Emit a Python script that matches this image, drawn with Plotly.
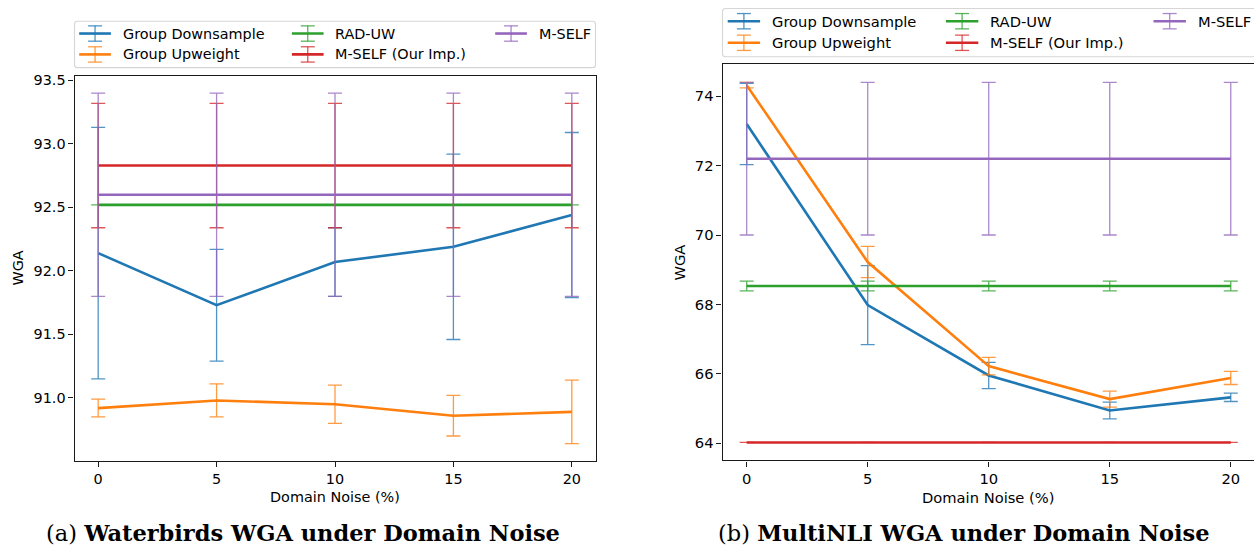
import plotly.graph_objects as go

W, H = 1254, 545

# ---------------- data ----------------
noise = [0, 5, 10, 15, 20]
method_names = ["Group Downsample", "Group Upweight", "RAD-UW", "M-SELF (Our Imp.)", "M-SELF"]
method_colors = ["#1f77b4", "#ff7f0e", "#2ca02c", "#d62728", "#9467bd"]

# Waterbirds WGA
wb_downsample = [92.14, 91.73, 92.07, 92.19, 92.44]
wb_downsample_err = [0.99, 0.44, 0.27, 0.73, 0.65]
wb_upweight = [90.92, 90.98, 90.95, 90.86, 90.89]
wb_upweight_err = [0.07, 0.13, 0.15, 0.16, 0.25]
wb_raduw = [92.52, 92.52, 92.52, 92.52, 92.52]
wb_raduw_err = [0.0, 0.0, 0.0, 0.0, 0.0]
wb_mself_ours = [92.83, 92.83, 92.83, 92.83, 92.83]
wb_mself_ours_err = [0.49, 0.49, 0.49, 0.49, 0.49]
wb_mself = [92.60, 92.60, 92.60, 92.60, 92.60]
wb_mself_err = [0.80, 0.80, 0.80, 0.80, 0.80]

# MultiNLI WGA
mnli_downsample = [73.20, 67.98, 65.95, 64.94, 65.32]
mnli_downsample_err = [1.17, 1.14, 0.38, 0.24, 0.12]
mnli_upweight = [74.32, 69.22, 66.22, 65.27, 65.88]
mnli_upweight_err = [0.08, 0.45, 0.25, 0.23, 0.19]
mnli_raduw = [68.53, 68.53, 68.53, 68.53, 68.53]
mnli_raduw_err = [0.14, 0.14, 0.14, 0.14, 0.14]
mnli_mself_ours = [64.02, 64.02, 64.02, 64.02, 64.02]
mnli_mself_ours_err = [0.0, 0.0, 0.0, 0.0, 0.0]
mnli_mself = [72.20, 72.20, 72.20, 72.20, 72.20]
mnli_mself_err = [2.20, 2.20, 2.20, 2.20, 2.20]

wb_tick_vals = [91.0, 91.5, 92.0, 92.5, 93.0, 93.5]
mnli_tick_vals = [64, 66, 68, 70, 72, 74]

captions = ["(a) <b>Waterbirds WGA under Domain Noise</b>",
            "(b) <b>MultiNLI WGA under Domain Noise</b>"]
x_title = "Domain Noise (%)"
y_title = "WGA"


def px(x):
    return x / W


def py(y):
    return 1 - y / H


def rgba(hexc, a):
    h = hexc.lstrip("#")
    r, g, b = int(h[0:2], 16), int(h[2:4], 16), int(h[4:6], 16)
    return f"rgba({r},{g},{b},{a})"


fig = go.Figure()

wb_series = [(wb_downsample, wb_downsample_err), (wb_upweight, wb_upweight_err),
             (wb_raduw, wb_raduw_err), (wb_mself_ours, wb_mself_ours_err),
             (wb_mself, wb_mself_err)]
mnli_series = [(mnli_downsample, mnli_downsample_err), (mnli_upweight, mnli_upweight_err),
               (mnli_raduw, mnli_raduw_err), (mnli_mself_ours, mnli_mself_ours_err),
               (mnli_mself, mnli_mself_err)]

for (xa, ya, series) in [("x", "y", wb_series), ("x2", "y2", mnli_series)]:
    for name, color, (vals, errs) in zip(method_names, method_colors, series):
        fig.add_trace(go.Scatter(
            x=noise, y=vals, mode="lines", name=name,
            line=dict(color=color, width=2.6),
            error_y=dict(type="data", array=errs, visible=True,
                         color=rgba(color, 0.78), thickness=1.3, width=7),
            xaxis=xa, yaxis=ya, showlegend=False))

axis_common = dict(showgrid=False, zeroline=False, showline=True, linecolor="#1a1a1a",
                   linewidth=1.1, ticks="outside", ticklen=5, tickwidth=1,
                   tickcolor="#1a1a1a")

fig.update_layout(
    width=W, height=H,
    margin=dict(l=0, r=0, t=0, b=0),
    paper_bgcolor="white", plot_bgcolor="white",
    font=dict(family="DejaVu Sans", color="black"),
    showlegend=False,
    xaxis=dict(domain=[px(74.5), px(595.5)], range=[-1, 21], tickvals=noise,
               mirror=True, anchor="y", tickfont=dict(size=14.4), **axis_common),
    yaxis=dict(domain=[py(460.7), py(73)], range=[90.502, 93.538], tickvals=wb_tick_vals,
               tickformat=".1f", mirror=True, anchor="x", tickfont=dict(size=14.4),
               **axis_common),
    xaxis2=dict(domain=[px(722.5), 1.0], range=[-1, 20.96], tickvals=noise,
                mirror=True, anchor="y2", tickfont=dict(size=14.7), **axis_common),
    yaxis2=dict(domain=[py(460), py(61.7)], range=[63.50, 74.92], tickvals=mnli_tick_vals,
                mirror=False, anchor="x2", tickfont=dict(size=14.7), **axis_common),
)

shapes = []
annotations = []


def rounded_rect(x0, y0, x1, y1, r):
    rx, ry = r / W, r / H
    X0, X1 = px(x0), px(x1)
    Y0, Y1 = py(y0), py(y1)  # Y0 top (larger), Y1 bottom
    path = (f"M {X0 + rx},{Y0} L {X1 - rx},{Y0} Q {X1},{Y0} {X1},{Y0 - ry} "
            f"L {X1},{Y1 + ry} Q {X1},{Y1} {X1 - rx},{Y1} L {X0 + rx},{Y1} "
            f"Q {X0},{Y1} {X0},{Y1 + ry} L {X0},{Y0 - ry} Q {X0},{Y0} {X0 + rx},{Y0} Z")
    return dict(type="path", xref="paper", yref="paper", path=path,
                fillcolor="rgba(255,255,255,0.8)", line=dict(color="#d6d6d6", width=1.1),
                layer="above")


def draw_legend(L, T, B, R, row_offsets, col_starts, handle_len, text_gap, fsize):
    shapes.append(rounded_rect(L, T, R, B, 3))
    order = [(0, 0), (0, 1), (1, 0), (1, 1), (2, 0)]  # (col,row) for each method
    for name, color, (c, r) in zip(method_names, method_colors, order):
        yc = T + row_offsets[r]
        xs = L + col_starts[c]
        xe = xs + handle_len
        xm = (xs + xe) / 2
        shapes.append(dict(type="line", xref="paper", yref="paper",
                           x0=px(xs), x1=px(xe), y0=py(yc), y1=py(yc),
                           line=dict(color=color, width=2.6), layer="above"))
        ec = rgba(color, 0.78)
        shapes.append(dict(type="line", xref="paper", yref="paper",
                           x0=px(xm), x1=px(xm), y0=py(yc - 7.7), y1=py(yc + 7.7),
                           line=dict(color=ec, width=1.3), layer="above"))
        for dy in (-7.7, 7.7):
            shapes.append(dict(type="line", xref="paper", yref="paper",
                               x0=px(xm - 7), x1=px(xm + 7), y0=py(yc + dy), y1=py(yc + dy),
                               line=dict(color=ec, width=1.3), layer="above"))
        annotations.append(dict(xref="paper", yref="paper", x=px(xe + text_gap), y=py(yc),
                                xanchor="left", yanchor="middle", showarrow=False,
                                text=name, font=dict(size=fsize, color="black")))


draw_legend(74.5, 18.3, 65.0, 595.5, [12.4, 33.4], [4.7, 217.4, 420.7], 31.7, 9.6, 14.4)
draw_legend(722.5, 5.5, 54.0, 1275, [12.8, 34.5], [5.2, 223.4, 431.0], 32.4, 9.7, 14.7)

# axis titles
annotations.append(dict(xref="paper", yref="paper", x=px(335), y=py(497), text=x_title,
                        showarrow=False, xanchor="center", yanchor="middle",
                        font=dict(size=14.4)))
annotations.append(dict(xref="paper", yref="paper", x=px(988.8), y=py(497), text=x_title,
                        showarrow=False, xanchor="center", yanchor="middle",
                        font=dict(size=14.7)))
annotations.append(dict(xref="paper", yref="paper", x=px(18), y=py(267), text=y_title,
                        showarrow=False, xanchor="center", yanchor="middle", textangle=-90,
                        font=dict(size=14.4)))
annotations.append(dict(xref="paper", yref="paper", x=px(680), y=py(261), text=y_title,
                        showarrow=False, xanchor="center", yanchor="middle", textangle=-90,
                        font=dict(size=14.7)))

# captions
annotations.append(dict(xref="paper", yref="paper", x=px(303), y=py(532.5), text=captions[0],
                        showarrow=False, xanchor="center", yanchor="middle",
                        font=dict(size=22.5, family="DejaVu Serif")))
annotations.append(dict(xref="paper", yref="paper", x=px(963.5), y=py(532.5), text=captions[1],
                        showarrow=False, xanchor="center", yanchor="middle",
                        font=dict(size=22.5, family="DejaVu Serif")))

fig.update_layout(shapes=shapes, annotations=annotations)
fig.write_html("out.html",
               config={"displayModeBar": False},
               post_script="document.body.style.margin='0';document.body.style.padding='0';"
                           "document.body.style.overflow='hidden';")
